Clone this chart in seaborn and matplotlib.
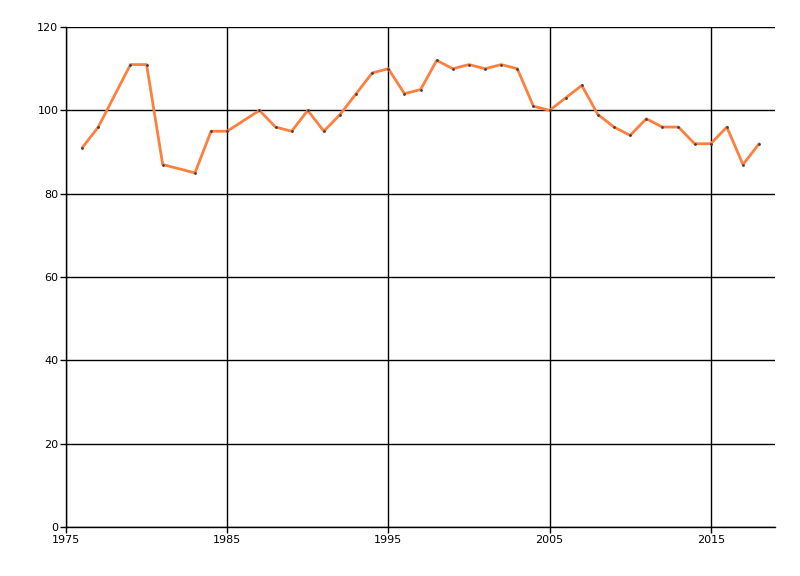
import numpy as np
import pandas as pd
import matplotlib
matplotlib.use("Agg")
import matplotlib.pyplot as plt
import seaborn as sns

# ------------------------------
# Data
# ------------------------------
years = [1976, 1977, 1979, 1980, 1981, 1983, 1984, 1985, 1987, 1988,
         1989, 1990, 1991, 1992, 1993, 1994, 1995, 1996, 1997, 1998,
         1999, 2000, 2001, 2002, 2003, 2004, 2005, 2006, 2007, 2008,
         2009, 2010, 2011, 2012, 2013, 2014, 2015, 2016, 2017, 2018]
values = [91, 96, 111, 111, 87, 85, 95, 95, 100, 96,
          95, 100, 95, 99, 104, 109, 110, 104, 105, 112,
          110, 111, 110, 111, 110, 101, 100, 103, 106, 99,
          96, 94, 98, 96, 96, 92, 92, 96, 87, 92]
x_ticks = [1975, 1985, 1995, 2005, 2015]
y_ticks = [0, 20, 40, 60, 80, 100, 120]

df = pd.DataFrame({"Year": years, "Value": values})

# ------------------------------
# Plot
# ------------------------------
sns.set_style("white")
plt.rcParams['font.family'] = ['DejaVu Sans']

fig = plt.figure(figsize=(8, 5.76), dpi=100)
ax = fig.add_axes([0.0825, 0.085, 0.8865, 0.868])

sns.lineplot(data=df, x="Year", y="Value", ax=ax, color="#FF7F3F",
             linewidth=2, zorder=3)
ax.scatter(df["Year"], df["Value"], s=4, color="#404040", zorder=4, linewidths=0)

ax.set_xlim(1975, 2019)
ax.set_ylim(0, 120)
ax.set_xticks(x_ticks)
ax.set_yticks(y_ticks)
ax.grid(True, color="black", linewidth=1)
ax.set_axisbelow(True)

for side in ["top", "right"]:
    ax.spines[side].set_visible(False)
for side in ["left", "bottom"]:
    ax.spines[side].set_color("black")
    ax.spines[side].set_linewidth(1)

ax.tick_params(axis="both", length=4, width=1, color="black",
               labelsize=8, labelcolor="black", pad=1.5, direction="out",
               bottom=True, left=True)
ax.set_xlabel("")
ax.set_ylabel("")

fig.savefig("out.png", dpi=100)
